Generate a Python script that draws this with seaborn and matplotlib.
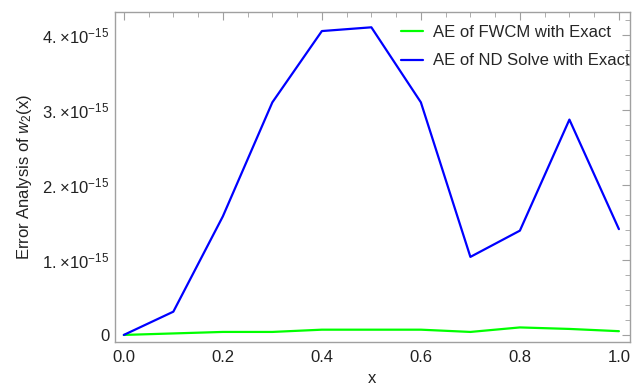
import numpy as np
import pandas as pd
import matplotlib
matplotlib.use("Agg")
import matplotlib.pyplot as plt
from matplotlib.ticker import MultipleLocator, FixedLocator
import seaborn as sns

# data (units of 1e-15)
x = [0.0, 0.1, 0.2, 0.3, 0.4, 0.5, 0.6, 0.7, 0.8, 0.9, 1.0]
ae_fwcm = [0.0, 0.02, 0.04, 0.04, 0.07, 0.07, 0.07, 0.04, 0.10, 0.08, 0.05]
ae_ndsolve = [0.0, 0.31, 1.58, 3.10, 4.05, 4.10, 3.10, 1.04, 1.39, 2.87, 1.41]
labels = ["AE of FWCM with Exact", "AE of ND Solve with Exact"]
y_ticks = [0, 1, 2, 3, 4]

scale = 1e-15
df = pd.DataFrame({
    "x": x * 2,
    "y": [v * scale for v in ae_fwcm + ae_ndsolve],
    "series": [labels[0]] * len(x) + [labels[1]] * len(x),
})

sns.set_theme(style="white")
plt.rcParams['font.family'] = ['Liberation Sans', 'DejaVu Sans']
plt.rcParams['mathtext.fontset'] = 'custom'
plt.rcParams['mathtext.rm'] = 'Liberation Sans'
plt.rcParams['mathtext.it'] = 'Liberation Sans:italic'

fig = plt.figure(figsize=(6.42, 3.85), dpi=100)
ax = fig.add_axes([0.179, 0.1125, 0.802, 0.8575])

sns.lineplot(data=df, x="x", y="y", hue="series",
             palette=["#00ff00", "#0000ff"], linewidth=1.6, ax=ax, legend=True)

ax.set_xlim(-0.018, 1.022)
ax.set_ylim(-0.09e-15, 4.31e-15)

ax.xaxis.set_major_locator(MultipleLocator(0.2))
ax.xaxis.set_minor_locator(MultipleLocator(0.05))
ax.xaxis.set_major_formatter(plt.FuncFormatter(lambda v, p: f"{v:.1f}"))
ax.yaxis.set_major_locator(FixedLocator([t * scale for t in y_ticks]))
ax.yaxis.set_minor_locator(MultipleLocator(0.2e-15))
ytl = ["0"] + [rf"${t}.\!\times\!10^{{-15}}$" for t in y_ticks[1:]]
ax.set_yticklabels(ytl)

gray = "#a0a0a0"
for s in ax.spines.values():
    s.set_color(gray)
    s.set_linewidth(1.0)
ax.tick_params(which="both", direction="in", top=True, right=True, color=gray,
               labelsize=12, labelcolor="#222222")
ax.tick_params(which="major", length=6, width=0.8)
ax.tick_params(which="minor", length=3.5, width=0.6)
ax.tick_params(axis="x", pad=6)
ax.tick_params(axis="y", pad=4)

ax.set_xlabel("x", fontsize=12, color="#222222")
ax.set_ylabel(r"Error Analysis of $\mathit{w}_2(\mathrm{x})$", fontsize=12, color="#222222")
ax.yaxis.set_label_coords(-0.158, 0.5)

ax.legend(loc="upper left", bbox_to_anchor=(0.615, 0.952), bbox_transform=fig.transFigure,
          frameon=False, fontsize=12, handlelength=1.3, handletextpad=0.6,
          labelspacing=0.8, borderaxespad=0)

fig.savefig("out.png", dpi=100)
